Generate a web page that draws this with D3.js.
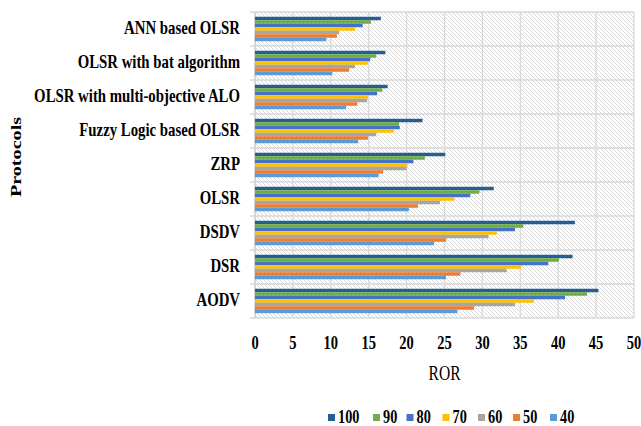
<!DOCTYPE html>
<html>
<head>
<meta charset="utf-8">
<script src="https://cdn.jsdelivr.net/npm/d3@7/dist/d3.min.js"></script>
<style>
  html, body { margin: 0; padding: 0; background: #fff; }
  svg { display: block; }
  text { font-family: "Liberation Serif", "Times New Roman", serif; fill: #000; }
</style>
</head>
<body>
<svg id="chart" width="641" height="426"></svg>
<script>
// Protocols, listed top to bottom
const protocols = [
  "ANN based OLSR",
  "OLSR with bat algorithm",
  "OLSR with multi-objective ALO",
  "Fuzzy Logic based OLSR",
  "ZRP",
  "OLSR",
  "DSDV",
  "DSR",
  "AODV"
];

// Series keys (drawn top to bottom inside each group)
const seriesKeys = ["100", "90", "80", "70", "60", "50", "40"];
const seriesColors = ["#255e91", "#70ad47", "#4472c4", "#ffc000", "#a5a5a5", "#ed7d31", "#5b9bd5"];

// ROR values per series, in protocol order
const ror100 = [16.6, 17.2, 17.5, 22.1, 25.1, 31.5, 42.2, 41.9, 45.3];
const ror90  = [15.3, 16.0, 16.8, 19.0, 22.4, 29.6, 35.4, 40.1, 43.8];
const ror80  = [14.2, 15.2, 16.1, 19.1, 20.9, 28.4, 34.3, 38.7, 40.9];
const ror70  = [13.2, 14.9, 14.9, 18.3, 20.1, 26.3, 31.9, 35.1, 36.8];
const ror60  = [11.1, 13.2, 14.8, 16.0, 20.0, 24.4, 30.8, 33.2, 34.3];
const ror50  = [10.8, 12.4, 13.5, 14.9, 16.9, 21.5, 25.2, 27.1, 28.9];
const ror40  = [ 9.4, 10.2, 12.0, 13.6, 16.3, 20.3, 23.6, 25.2, 26.7];
const seriesValues = [ror100, ror90, ror80, ror70, ror60, ror50, ror40];

const xTicks = [0, 5, 10, 15, 20, 25, 30, 35, 40, 45, 50];

const svg = d3.select("#chart");
const plot = { left: 255, right: 634, top: 12, bottom: 318 };
const stretch = 1.3; // vertical stretch applied to all text

const x = d3.scaleLinear().domain([0, 50]).range([plot.left, plot.right]);
const y = d3.scaleBand().domain(protocols).range([plot.top, plot.bottom])
  .paddingInner(0.28).paddingOuter(0.14);
const ySub = d3.scaleBand().domain(seriesKeys).range([0, y.bandwidth()]);
const color = d3.scaleOrdinal().domain(seriesKeys).range(seriesColors);

// hatched plot background
const defs = svg.append("defs");
const pat = defs.append("pattern")
  .attr("id", "hatch").attr("patternUnits", "userSpaceOnUse")
  .attr("width", 4).attr("height", 4);
pat.append("rect").attr("width", 4).attr("height", 4).attr("fill", "#ffffff");
pat.append("path").attr("d", "M-1,-1 L5,5 M-1,3 L1,5 M3,-1 L5,1")
  .attr("stroke", "#d6d6d6").attr("stroke-width", 0.9);

svg.append("rect")
  .attr("x", plot.left).attr("y", plot.top)
  .attr("width", plot.right - plot.left).attr("height", plot.bottom - plot.top)
  .attr("fill", "url(#hatch)");

// vertical gridlines
svg.append("g").selectAll("line").data(xTicks).join("line")
  .attr("x1", d => x(d)).attr("x2", d => x(d))
  .attr("y1", plot.top).attr("y2", plot.bottom)
  .attr("stroke", "#d9d9d9").attr("stroke-width", 1.3);

// horizontal separators between protocol groups
const step = y.step();
const seps = d3.range(protocols.length + 1).map(i => plot.top + i * step);
svg.append("g").selectAll("line").data(seps).join("line")
  .attr("x1", plot.left - 5).attr("x2", plot.right)
  .attr("y1", d => d).attr("y2", d => d)
  .attr("stroke", "#d9d9d9").attr("stroke-width", 1.3);

// category axis line
svg.append("line")
  .attr("x1", plot.left).attr("x2", plot.left)
  .attr("y1", plot.top).attr("y2", plot.bottom)
  .attr("stroke", "#d0d0d0").attr("stroke-width", 1.3);

// bars
const rows = [];
protocols.forEach((p, i) => {
  seriesKeys.forEach((k, j) => rows.push({ protocol: p, key: k, value: seriesValues[j][i] }));
});
svg.append("g").selectAll("rect").data(rows).join("rect")
  .attr("x", x(0))
  .attr("y", d => y(d.protocol) + ySub(d.key))
  .attr("width", d => x(d.value) - x(0))
  .attr("height", ySub.bandwidth())
  .attr("fill", d => color(d.key));

// helper for vertically stretched text
function label(g, tx, ty, str, opts) {
  const t = g.append("text")
    .attr("transform", `translate(${tx},${ty}) scale(1,${stretch})` + (opts.rotate ? ` rotate(${opts.rotate})` : ""))
    .attr("text-anchor", opts.anchor || "start")
    .attr("font-size", opts.size)
    .attr("font-weight", opts.weight || "bold")
    .text(str);
  return t;
}

// protocol labels
const labels = svg.append("g");
protocols.forEach(p => {
  label(labels, 240, y(p) + y.bandwidth() / 2 + 4.5, p, { anchor: "end", size: 14.8 });
});

// x tick labels
const tickG = svg.append("g");
xTicks.forEach(v => {
  label(tickG, x(v), 349, String(v), { anchor: "middle", size: 14.5 });
});

// axis titles
label(svg, 444.5, 380, "ROR", { anchor: "middle", size: 15.6, weight: "normal" });
label(svg, 21, 157, "Protocols", { anchor: "middle", size: 15.5, rotate: -90 });

// legend
const legendX = [328, 373, 406.5, 442.5, 478, 513, 550];
const lg = svg.append("g");
seriesKeys.forEach((k, j) => {
  lg.append("rect").attr("x", legendX[j]).attr("y", 414).attr("width", 7).attr("height", 7)
    .attr("fill", color(k));
  label(lg, legendX[j] + 10, 423, k, { anchor: "start", size: 14.3 });
});
</script>
</body>
</html>
